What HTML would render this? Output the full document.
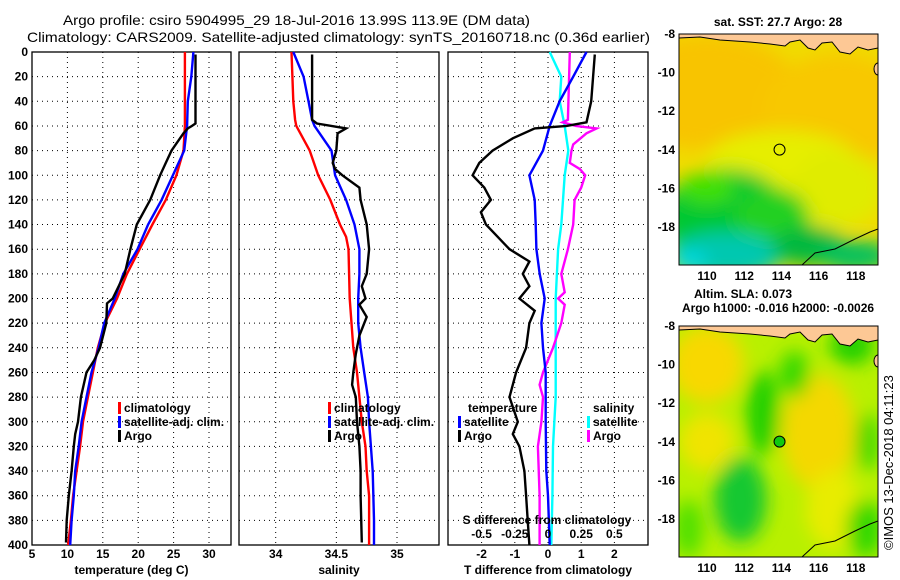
<!DOCTYPE html>
<html><head><meta charset="utf-8">
<style>
html,body{margin:0;padding:0;background:#fff;}
svg{display:block;font-family:"Liberation Sans",sans-serif;}
.t{font-weight:bold;font-size:12px;fill:#000;}
.ttl{font-size:14px;fill:#000;}
</style></head>
<body>
<svg id="fig" width="900" height="580" viewBox="0 0 900 580" xmlns="http://www.w3.org/2000/svg">
<text class="ttl" x="63" y="25" textLength="467" lengthAdjust="spacingAndGlyphs">Argo profile: csiro 5904995_29 18-Jul-2016 13.99S 113.9E (DM data)</text>
<text class="ttl" x="27" y="42" textLength="623" lengthAdjust="spacingAndGlyphs">Climatology: CARS2009. Satellite-adjusted climatology: synTS_20160718.nc (0.36d earlier)</text>
<g id="plots"></g>
<g id="maps"></g>
<text class="t" transform="translate(893,550) rotate(-90)" style="font-weight:normal;font-size:13px">©IMOS 13-Dec-2018 04:11:23</text>
</svg>
<script>
// ---------- data ----------
const depthTclim = [0,55,60,80,100,120,140,160,180,200,220,240,260,280,300,320,340,360,380,400];
const tempClim   = [26.6,26.6,26.6,26.4,25.4,23.9,22.0,20.2,18.4,17.0,15.3,14.3,13.6,12.9,12.2,11.8,11.3,10.8,10.5,10.1];
const depthTsat  = [0,20,40,60,80,100,120,140,160,180,200,220,240,260,280,300,320,340,360,380,400];
const tempSat    = [27.8,27.5,27.0,26.9,26.5,24.9,23.3,21.4,19.9,17.9,16.7,15.2,14.4,13.4,12.7,12.0,11.6,11.1,10.9,10.6,10.4];
const depthTargo = [2,58,60,62,66,70,80,90,100,120,140,160,180,200,204,220,240,250,260,280,300,310,320,340,360,380,398];
const tempArgo   = [28.1,28.1,27.6,27.0,26.4,25.9,24.7,23.9,23.1,21.7,19.8,18.9,18.1,16.4,15.6,15.5,14.6,13.8,12.7,11.9,11.5,11.1,10.9,10.6,10.2,9.9,9.8];

const depthSclim = [0,40,55,60,80,100,120,140,150,160,200,240,260,280,300,320,340,360,380,400];
const salClim    = [34.13,34.145,34.16,34.17,34.28,34.35,34.45,34.53,34.58,34.6,34.61,34.64,34.67,34.69,34.71,34.74,34.75,34.77,34.77,34.77];
const depthSsat  = [0,20,40,55,60,80,100,120,140,160,180,200,220,240,260,280,300,340,380,400];
const salSat     = [34.145,34.23,34.27,34.3,34.32,34.46,34.49,34.58,34.65,34.69,34.69,34.68,34.68,34.7,34.73,34.76,34.77,34.8,34.81,34.81];
const depthSargo = [2,55,58,62,66,80,90,95,100,110,120,140,160,180,190,200,205,215,230,245,260,270,280,300,320,340,360,398];
const salArgo    = [34.3,34.3,34.34,34.58,34.51,34.5,34.47,34.49,34.55,34.69,34.7,34.75,34.77,34.75,34.71,34.74,34.69,34.75,34.69,34.66,34.64,34.63,34.66,34.67,34.69,34.7,34.7,34.71];

const depthDTsat = [0,20,40,60,80,100,120,140,160,180,200,220,240,260,300,340,360,400];
const dTsat      = [1.16,0.76,0.35,0.05,-0.15,-0.56,-0.4,-0.37,-0.35,-0.25,-0.1,-0.2,-0.15,-0.07,-0.07,-0.05,0,0.05];
const depthDTargo = [2,40,57,60,62,70,80,90,100,110,120,130,140,160,170,180,190,200,210,220,240,260,280,300,310,320,340,360,380,400];
const dTargo      = [1.41,1.3,1.16,0.56,-0.4,-1.06,-1.67,-2.07,-2.27,-1.92,-1.72,-2.02,-1.87,-1.16,-0.56,-0.76,-0.56,-0.86,-0.4,-0.56,-0.66,-0.96,-1.16,-0.91,-1.06,-0.86,-0.71,-0.66,-0.61,-0.56];
const depthDSsat = [0,20,40,60,80,100,140,160,200,240,280,320,360,400];
const dSsat      = [0.013,0.1,0.088,0.126,0.153,0.126,0.1,0.076,0.058,0.058,0.058,0.038,0.033,0.025];
const depthDSargo = [0,55,57,60,62,66,75,80,90,95,100,110,120,140,160,180,195,200,205,220,240,260,270,280,300,320,360,400];
const dSargo      = [0.164,0.15,0.11,0.21,0.366,0.29,0.19,0.177,0.164,0.24,0.28,0.25,0.2,0.19,0.15,0.1,0.126,0.076,0.126,0.1,0.038,-0.038,-0.063,-0.038,-0.05,-0.076,-0.063,-0.063];

const depthTicks = [0,20,40,60,80,100,120,140,160,180,200,220,240,260,280,300,320,340,360,380,400];
const tempTicks = [5,10,15,20,25,30];
const salTicks = [34,34.5,35];
const dTTicks = [-2,-1,0,1,2];
const dSTicks = [-0.5,-0.25,0,0.25,0.5];
const dSTickLabels = ["-0.5","-0.25","0","0.25","0.5"];

// ---------- scales ----------
const yD = d => 52 + d*1.2325;
const xT = t => 32 + (t-5)*7.08;
const xS = s => 275.7 + (s-34)*121.3;
const xDT = v => 548 + v*33.2;
const xDS = v => 548 + v*4*33.2;
const NS = "http://www.w3.org/2000/svg";
const plots = document.getElementById('plots');
function mk(tag, attrs, parent){const e=document.createElementNS(NS,tag);for(const k in attrs)e.setAttribute(k,attrs[k]);(parent||plots).appendChild(e);return e;}

function panel(name, x0, x1, ticksX, fx, tickLbl, xlabel, showY){
  const g = mk('g',{});
  
  
  const y0=yD(0), y1=yD(400);
  depthTicks.forEach(d=>{
    if(d>0&&d<400){const l=mk('line',{x1:x0,x2:x1,y1:yD(d),y2:yD(d),stroke:'#000','stroke-width':1,'stroke-dasharray':'1,4'},g);
    
    }
    if(showY){const t=mk('text',{x:28,y:yD(d)+4,'text-anchor':'end',class:'t'},g);t.textContent=d;
    
    }
  });
  ticksX.forEach((v,i)=>{
    const X=fx(v);
    if(X>x0+1&&X<x1-1){const l=mk('line',{x1:X,x2:X,y1:y0,y2:y1,stroke:'#000','stroke-width':1,'stroke-dasharray':'1,4'},g);
    
    }
    const t=mk('text',{x:X,y:y1+13,'text-anchor':'middle',class:'t'},g);t.textContent=tickLbl?tickLbl[i]:v;
    
    
  });
  const r=mk('rect',{x:x0,y:y0,width:x1-x0,height:y1-y0,fill:'none',stroke:'#000','stroke-width':1.3},g);
  
  
  const xl=mk('text',{x:(x0+x1)/2,y:574,'text-anchor':'middle',class:'t'},g);xl.textContent=xlabel;
  
  
  return g;
}
function line(g, depths, vals, fx, color, name){
  const pts = depths.map((d,i)=>fx(vals[i]).toFixed(1)+','+yD(d).toFixed(1)).join(' ');
  const p=mk('polyline',{points:pts,fill:'none',stroke:color,'stroke-width':2.4,'stroke-linejoin':'miter'},g);
  
  
}
function legend(g, x, y, color, label){
  const b=mk('rect',{x:x,y:y-10,width:3,height:12,fill:color},g);
  
  
  const t=mk('text',{x:x+6,y:y,class:'t'},g);t.textContent=label;
  
  
}

const g1 = panel('temperature-panel',32,231,tempTicks,xT,null,'temperature (deg C)',true);
line(g1,depthTclim,tempClim,xT,'#f00','temp-climatology-line');
line(g1,depthTsat,tempSat,xT,'#00f','temp-satellite-line');
line(g1,depthTargo,tempArgo,xT,'#000','temp-argo-line');
legend(g1,118,412,'#f00','climatology');legend(g1,118,426,'#00f','satellite-adj. clim.');legend(g1,118,440,'#000','Argo');

const g2 = panel('salinity-panel',239,439,salTicks,xS,null,'salinity',false);
line(g2,depthSclim,salClim,xS,'#f00','sal-climatology-line');
line(g2,depthSsat,salSat,xS,'#00f','sal-satellite-line');
line(g2,depthSargo,salArgo,xS,'#000','sal-argo-line');
legend(g2,328,412,'#f00','climatology');legend(g2,328,426,'#00f','satellite-adj. clim.');legend(g2,328,440,'#000','Argo');

const g3 = panel('difference-panel',448,648,dTTicks,xDT,null,'T difference from climatology',false);
line(g3,depthDSsat,dSsat,xDS,'#0ff','sal-diff-satellite-line');
line(g3,depthDSargo,dSargo,xDS,'#f0f','sal-diff-argo-line');
line(g3,depthDTsat,dTsat,xDT,'#00f','temp-diff-satellite-line');
line(g3,depthDTargo,dTargo,xDT,'#000','temp-diff-argo-line');
{const t=mk('text',{x:468,y:412,class:'t'},g3);t.textContent='temperature';

}
legend(g3,458,426,'#00f','satellite');legend(g3,458,440,'#000','Argo');
{const t=mk('text',{x:593,y:412,class:'t'},g3);t.textContent='salinity';

}
legend(g3,587,426,'#0ff','satellite');legend(g3,587,440,'#f0f','Argo');
{const t=mk('text',{x:547,y:524,'text-anchor':'middle',class:'t'},g3);t.textContent='S difference from climatology';

}
dSTicks.forEach((v,i)=>{const t=mk('text',{x:xDS(v),y:538,'text-anchor':'middle',class:'t'},g3);t.textContent=dSTickLabels[i];

});

// ---------- maps ----------
const maps=document.getElementById('maps');
const lonTicks=[110,112,114,116,118];
const latTicks=[-8,-10,-12,-14,-16,-18];
function mapPanel(name, top, blobs, base, title1, title2, markerFill){
  const g=mk('g',{},maps);
  
  
  const L=679,R=878,B=top+231;
  const mx=lon=>707+(lon-110)*18.6, my=lat=>top+(-8-lat)*19.3;
  const cid=name+'-clip';
  const cp=mk('clipPath',{id:cid},g);mk('rect',{x:L,y:top,width:R-L,height:B-top},cp);
  const fid=name+'-blur';
  const f=mk('filter',{id:fid,x:'-20%',y:'-20%',width:'140%',height:'140%'},g);mk('feGaussianBlur',{stdDeviation:9},f);
  const inner=mk('g',{'clip-path':'url(#'+cid+')'},g);
  mk('rect',{x:L,y:top,width:R-L,height:B-top,fill:base},inner);
  const bg=mk('g',{filter:'url(#'+fid+')'},inner);
  blobs.forEach(b=>mk('ellipse',{cx:mx(b[0]),cy:my(b[1]),rx:b[2]*18.6,ry:b[3]*19.3,fill:b[4]},bg));
  const land=mk('path',{d:`M${L},${top} L${L},${top+4} L700,${top+3} L720,${top+6} L750,${top+8} L770,${top+10} L785,${top+12} L790,${top+8} L800,${top+6} L808,${top+14} L815,${top+16} L822,${top+9} L832,${top+8} L840,${top+18} L850,${top+20} L858,${top+13} L868,${top+16} L878,${top+14} L878,${top} Z`,fill:'#fdc895',stroke:'#000','stroke-width':1},inner);
  
  
  mk('path',{d:`M802,${B} L815,${B-12} L835,${B-16} L855,${B-26} L870,${B-33} L878,${B-36}`,fill:'none',stroke:'#000','stroke-width':1},inner);
  mk('path',{d:`M878,${top+29} a4,6 0 1 0 0,12`,fill:'#fdc895',stroke:'#000','stroke-width':1},inner);
  const c=mk('circle',{cx:mx(113.9),cy:my(-13.99),r:5.5,fill:markerFill,stroke:'#000','stroke-width':1},g);
  
  
  mk('rect',{x:L,y:top,width:R-L,height:B-top,fill:'none',stroke:'#000','stroke-width':1},g);
  lonTicks.forEach(v=>{const t=mk('text',{x:mx(v),y:B+15,'text-anchor':'middle',class:'t'},g);t.textContent=v;
    
    });
  latTicks.forEach(v=>{const t=mk('text',{x:675,y:my(v)+4,'text-anchor':'end',class:'t'},g);t.textContent=v;
    
    });
  title1&&(()=>{const t=mk('text',{x:title1[1],y:title1[2],'text-anchor':'middle',class:'t'},g);t.textContent=title1[0];
    
    })();
  title2&&(()=>{const t=mk('text',{x:title2[1],y:title2[2],'text-anchor':'middle',class:'t'},g);t.textContent=title2[0];
    
    })();
}
mapPanel('sst-map',34,[
  [110,-11,5,3,'#f8c400'],[117,-12,4,3,'#f8c800'],[114,-14.5,4,1.5,'#e6ee00'],
  [117,-16,2.5,2,'#e0ec00'],[111,-17.5,3.5,2.5,'#00c830'],[113.5,-17.5,2,1.5,'#20d020'],
  [111,-19.5,3,1.2,'#00c8b0'],[109,-19.8,1,0.6,'#00d8e0'],[115.5,-19,2,1,'#00b840'],
  [118,-19.5,2,0.8,'#00c060'],[110,-16,1.5,0.8,'#40e000']
],'#f0dc00',['sat. SST: 27.7 Argo: 28',778,26],null,'none');
mapPanel('sla-map',326,[
  [110,-10,2,2,'#f8d800'],[110,-14,1.5,1.5,'#f0e400'],[116,-13.5,2,3,'#f4d800'],
  [113,-12.5,0.9,2.2,'#20d000'],[114.7,-10.5,0.8,1.2,'#30d800'],[111.8,-17,1.4,2.2,'#18c830'],
  [116.8,-17.5,1.5,2,'#e8ec00'],[118.6,-14,0.6,1.5,'#30d800'],[117.8,-9,1.2,1,'#20d000'],
  [109,-18.5,0.8,1.5,'#50e000'],[118.5,-18.5,1,1.5,'#30d800']
],'#b8f000',['Altim. SLA: 0.073',743,298],['Argo h1000: -0.016 h2000: -0.0026',778,312],'#10c810');
</script>
</body></html>
